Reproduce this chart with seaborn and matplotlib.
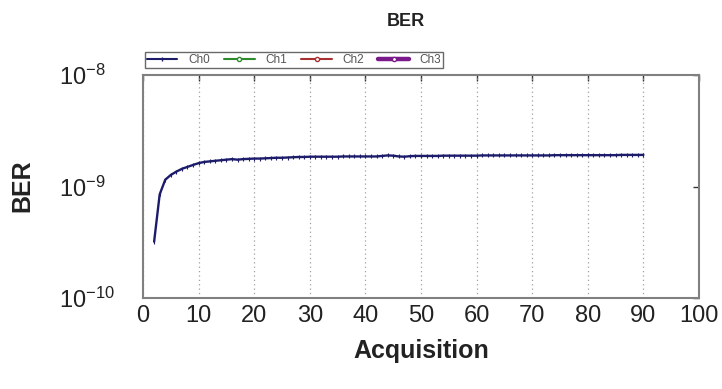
import numpy as np
import pandas as pd
import matplotlib
matplotlib.use("Agg")
import matplotlib.pyplot as plt
from matplotlib.lines import Line2D
import seaborn as sns

# ---- data ----
acquisition = list(range(2, 91))
ber_ch0 = [
    3.2e-10, 8.5e-10, 1.15e-9, 1.27e-9, 1.36e-9, 1.44e-9, 1.50e-9, 1.56e-9, 1.62e-9,
    1.66e-9, 1.68e-9, 1.70e-9, 1.72e-9, 1.74e-9, 1.76e-9, 1.74e-9, 1.76e-9, 1.77e-9, 1.78e-9,
    1.78e-9, 1.79e-9, 1.80e-9, 1.81e-9, 1.81e-9, 1.82e-9, 1.83e-9, 1.84e-9, 1.84e-9, 1.85e-9,
    1.85e-9, 1.85e-9, 1.85e-9, 1.85e-9, 1.85e-9, 1.86e-9, 1.86e-9, 1.86e-9, 1.86e-9, 1.86e-9,
    1.86e-9, 1.86e-9, 1.88e-9, 1.90e-9, 1.89e-9, 1.86e-9, 1.85e-9, 1.87e-9, 1.88e-9, 1.88e-9,
    1.88e-9, 1.88e-9, 1.88e-9, 1.89e-9, 1.89e-9, 1.89e-9, 1.89e-9, 1.89e-9, 1.89e-9, 1.89e-9,
    1.90e-9, 1.90e-9, 1.90e-9, 1.90e-9, 1.90e-9, 1.90e-9, 1.90e-9, 1.90e-9, 1.90e-9, 1.90e-9,
    1.90e-9, 1.90e-9, 1.90e-9, 1.91e-9, 1.91e-9, 1.91e-9, 1.91e-9, 1.91e-9, 1.91e-9, 1.91e-9,
    1.91e-9, 1.91e-9, 1.91e-9, 1.91e-9, 1.91e-9, 1.92e-9, 1.92e-9, 1.92e-9, 1.92e-9, 1.92e-9,
]
channels = ["Ch0", "Ch1", "Ch2", "Ch3"]
channel_colors = ["#1c1c6b", "#2e8b2e", "#a83232", "#7a1a8a"]
x_ticks = [0, 10, 20, 30, 40, 50, 60, 70, 80, 90, 100]
y_ticks = [1e-10, 1e-9, 1e-8]
y_tick_labels = [r"$\mathregular{10^{-10}}$", r"$\mathregular{10^{-9}}$", r"$\mathregular{10^{-8}}$"]

df = pd.DataFrame({"Acquisition": acquisition[:len(ber_ch0)], "BER": ber_ch0})

sns.set_style("white")
plt.rcParams["font.family"] = ["Liberation Sans", "DejaVu Sans"]

W, H = 722, 389
fig = plt.figure(figsize=(W / 100, H / 100), dpi=100)
L, R, T, B = 143, 699, 75, 298
ax = fig.add_axes([L / W, 1 - B / H, (R - L) / W, (B - T) / H])

sns.lineplot(data=df, x="Acquisition", y="BER", ax=ax, color=channel_colors[0],
             linewidth=1.7, marker="|", markersize=3, markeredgewidth=0.8,
             markeredgecolor=channel_colors[0])

ax.set_yscale("log")
ax.set_xlim(0, 100)
ax.set_ylim(1e-10, 1e-8)
ax.set_xticks(x_ticks)
ax.set_xticklabels([str(t) for t in x_ticks])
ax.set_yticks(y_ticks)
ax.set_yticklabels(y_tick_labels)
ax.minorticks_off()

for s in ax.spines.values():
    s.set_color("#808080")
    s.set_linewidth(1.5)

ax.tick_params(axis="both", which="major", direction="inout", length=5.5, width=1.0,
               color="#333333", labelsize=17, labelcolor="#222222",
               top=False, right=False)
ax.tick_params(axis="x", pad=2)
ax.tick_params(axis="y", pad=58)
for lab in ax.get_yticklabels():
    lab.set_horizontalalignment("left")

# inward ticks on the top and right frames
sec_x = ax.secondary_xaxis("top")
sec_x.set_xticks(x_ticks)
sec_x.tick_params(direction="in", length=4, width=1.0, color="#333333", labeltop=False)
sec_x.spines["top"].set_visible(False)
sec_y = ax.secondary_yaxis("right")
sec_y.set_yticks(y_ticks)
sec_y.minorticks_off()
sec_y.tick_params(direction="in", length=4, width=1.0, color="#333333", labelright=False)
sec_y.spines["right"].set_visible(False)

ax.grid(axis="x", linestyle=(0, (1, 2.5)), color="#a0a0a0", linewidth=0.9)
ax.grid(axis="y", visible=False)

ax.set_xlabel("")
ax.set_ylabel("")
fig.text((L + R) / 2 / W, 1 - 351 / H, "Acquisition", ha="center", va="center",
         fontsize=18, fontweight="bold", color="#222222")
fig.text(22 / W, 1 - 186 / H, "BER", ha="center", va="center", rotation=90,
         fontsize=18, fontweight="bold", color="#222222")
fig.text(406 / W, 1 - 21 / H, "BER", ha="center", va="center",
         fontsize=13, fontweight="bold", color="#222222")

handles = []
for name, c in zip(channels, channel_colors):
    lw = 3.2 if name == "Ch3" else 1.5
    mk = "|" if name == "Ch0" else "o"
    handles.append(Line2D([0], [0], color=c, linewidth=lw, marker=mk, markersize=3,
                          markerfacecolor="white", markeredgecolor=c, label=name))
leg = fig.legend(handles=handles, loc="lower left",
                 bbox_to_anchor=(145 / W, 1 - 68 / H), ncol=4, fontsize=8.5,
                 frameon=True, fancybox=False, handlelength=2.6, columnspacing=1.2,
                 borderpad=0.15, handletextpad=0.9, borderaxespad=0)
leg.get_frame().set_edgecolor("#444444")
leg.get_frame().set_linewidth(1.0)
for t in leg.get_texts():
    t.set_color("#555555")

fig.savefig("out.png", dpi=100)
